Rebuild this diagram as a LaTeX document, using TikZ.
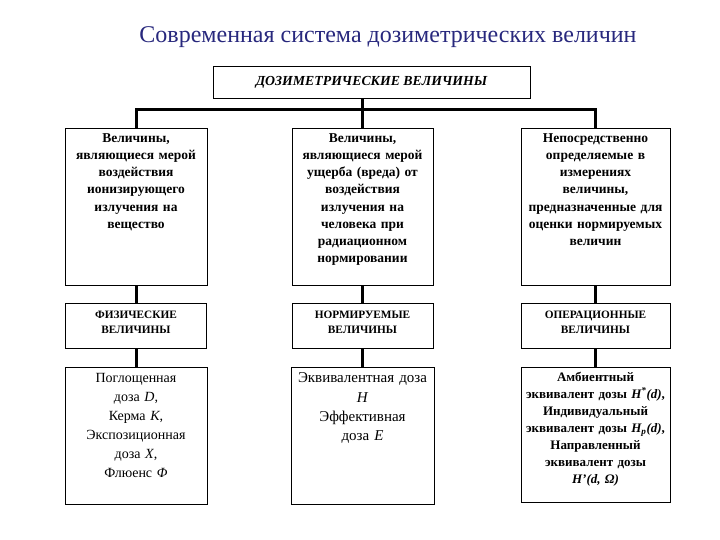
\documentclass[tikz,border=0pt]{standalone}
\usepackage{fontspec}
\setmainfont{Liberation Serif}
\usepackage{tikz}
\usetikzlibrary{positioning}

\definecolor{titleblue}{RGB}{40,40,125}
\newcommand{\toptext}[2]{\parbox[t][#1][t]{\linewidth}{\centering #2}}

\tikzset{
  heading/.style={font=\fontsize{24}{27}\selectfont, text=titleblue},
  rootbox/.style={draw, line width=0.8pt, minimum width=317pt, minimum height=32pt,
    font=\fontsize{13.8}{15}\selectfont\bfseries\itshape},
  kindbox/.style={draw, line width=0.8pt, anchor=north, inner xsep=2pt, inner ysep=5pt,
    align=center, font=\fontsize{13.5}{17.2}\selectfont\bfseries},
  groupbox/.style={draw, line width=0.8pt, inner xsep=2pt, inner ysep=7pt,
    align=center, font=\fontsize{11.3}{15}\selectfont\bfseries},
  valuebox/.style={draw, line width=0.8pt, inner xsep=2pt, inner ysep=6pt,
    align=center, font=\fontsize{14}{19}\selectfont},
  link/.style={line width=3pt}
}

\begin{document}
\begin{tikzpicture}[x=1pt,y=-1pt,node distance=17.5pt]
  \useasboundingbox (0,0) rectangle (720,540);

  \node[heading] (head) at (388,37.5) {Современная система дозиметрических величин};
  \node[rootbox] (root) at (371.5,82) {\raisebox{3pt}{ДОЗИМЕТРИЧЕСКИЕ ВЕЛИЧИНЫ}};

  % upper row: what the quantities measure
  \node[kindbox, text width=138pt] (kindPhys) at (136,128)
    {\toptext{147pt}{Величины,\\ являющиеся мерой\\ воздействия\\ ионизирующего\\ излучения на\\ вещество}};
  \node[kindbox, text width=137pt] (kindNorm) at (362.5,128)
    {\toptext{147pt}{Величины,\\ являющиеся мерой\\ ущерба (вреда) от\\ воздействия\\ излучения на\\ человека при\\ радиационном\\ нормировании}};
  \node[kindbox, text width=145pt] (kindOper) at (595.5,128)
    {\toptext{147pt}{Непосредственно\\ определяемые в\\ измерениях\\ величины,\\ предназначенные для\\ оценки нормируемых\\ величин}};

  % middle row: group names
  \node[groupbox, text width=137pt] (grpPhys) [below=of kindPhys] {\toptext{31pt}{ФИЗИЧЕСКИЕ\\ ВЕЛИЧИНЫ}};
  \node[groupbox, text width=137pt] (grpNorm) [below=of kindNorm] {\toptext{31pt}{НОРМИРУЕМЫЕ\\ ВЕЛИЧИНЫ}};
  \node[groupbox, text width=145pt] (grpOper) [below=of kindOper] {\toptext{31pt}{ОПЕРАЦИОННЫЕ\\ ВЕЛИЧИНЫ}};

  % lower row: the quantities
  \node[valuebox, text width=138pt] (valPhys) [below=of grpPhys]
    {\toptext{125pt}{Поглощенная\\ доза \textit{D},\\ Керма \textit{K},\\ Экспозиционная\\ доза \textit{X},\\ Флюенс \textit{Φ}}};
  \node[valuebox, text width=139pt, font=\fontsize{15}{19.3}\selectfont] (valNorm) [below=of grpNorm]
    {\toptext{125pt}{Эквивалентная доза\\ \textit{H}\\ Эффективная\\ доза \textit{E}}};
  \node[valuebox, text width=145pt, inner ysep=5pt, font=\fontsize{13}{17}\selectfont\bfseries] (valOper) [below=of grpOper]
    {\toptext{125pt}{Амбиентный\\ эквивалент дозы \textit{H\textsuperscript{*}(d)},\\ Индивидуальный\\ эквивалент дозы \textit{H\textsubscript{p}(d)},\\ Направленный\\ эквивалент дозы\\ \textit{H'(d, Ω)}}};

  \draw[link] (root.south -| kindNorm) -- (kindNorm.north);
  \draw[link] (kindPhys.north) -- ++(0,-18) -| (kindOper.north);
  \foreach \col in {Phys,Norm,Oper} {
    \draw[link] (kind\col.south) -- (grp\col.north);
    \draw[link] (grp\col.south) -- (val\col.north);
  }
\end{tikzpicture}
\end{document}
